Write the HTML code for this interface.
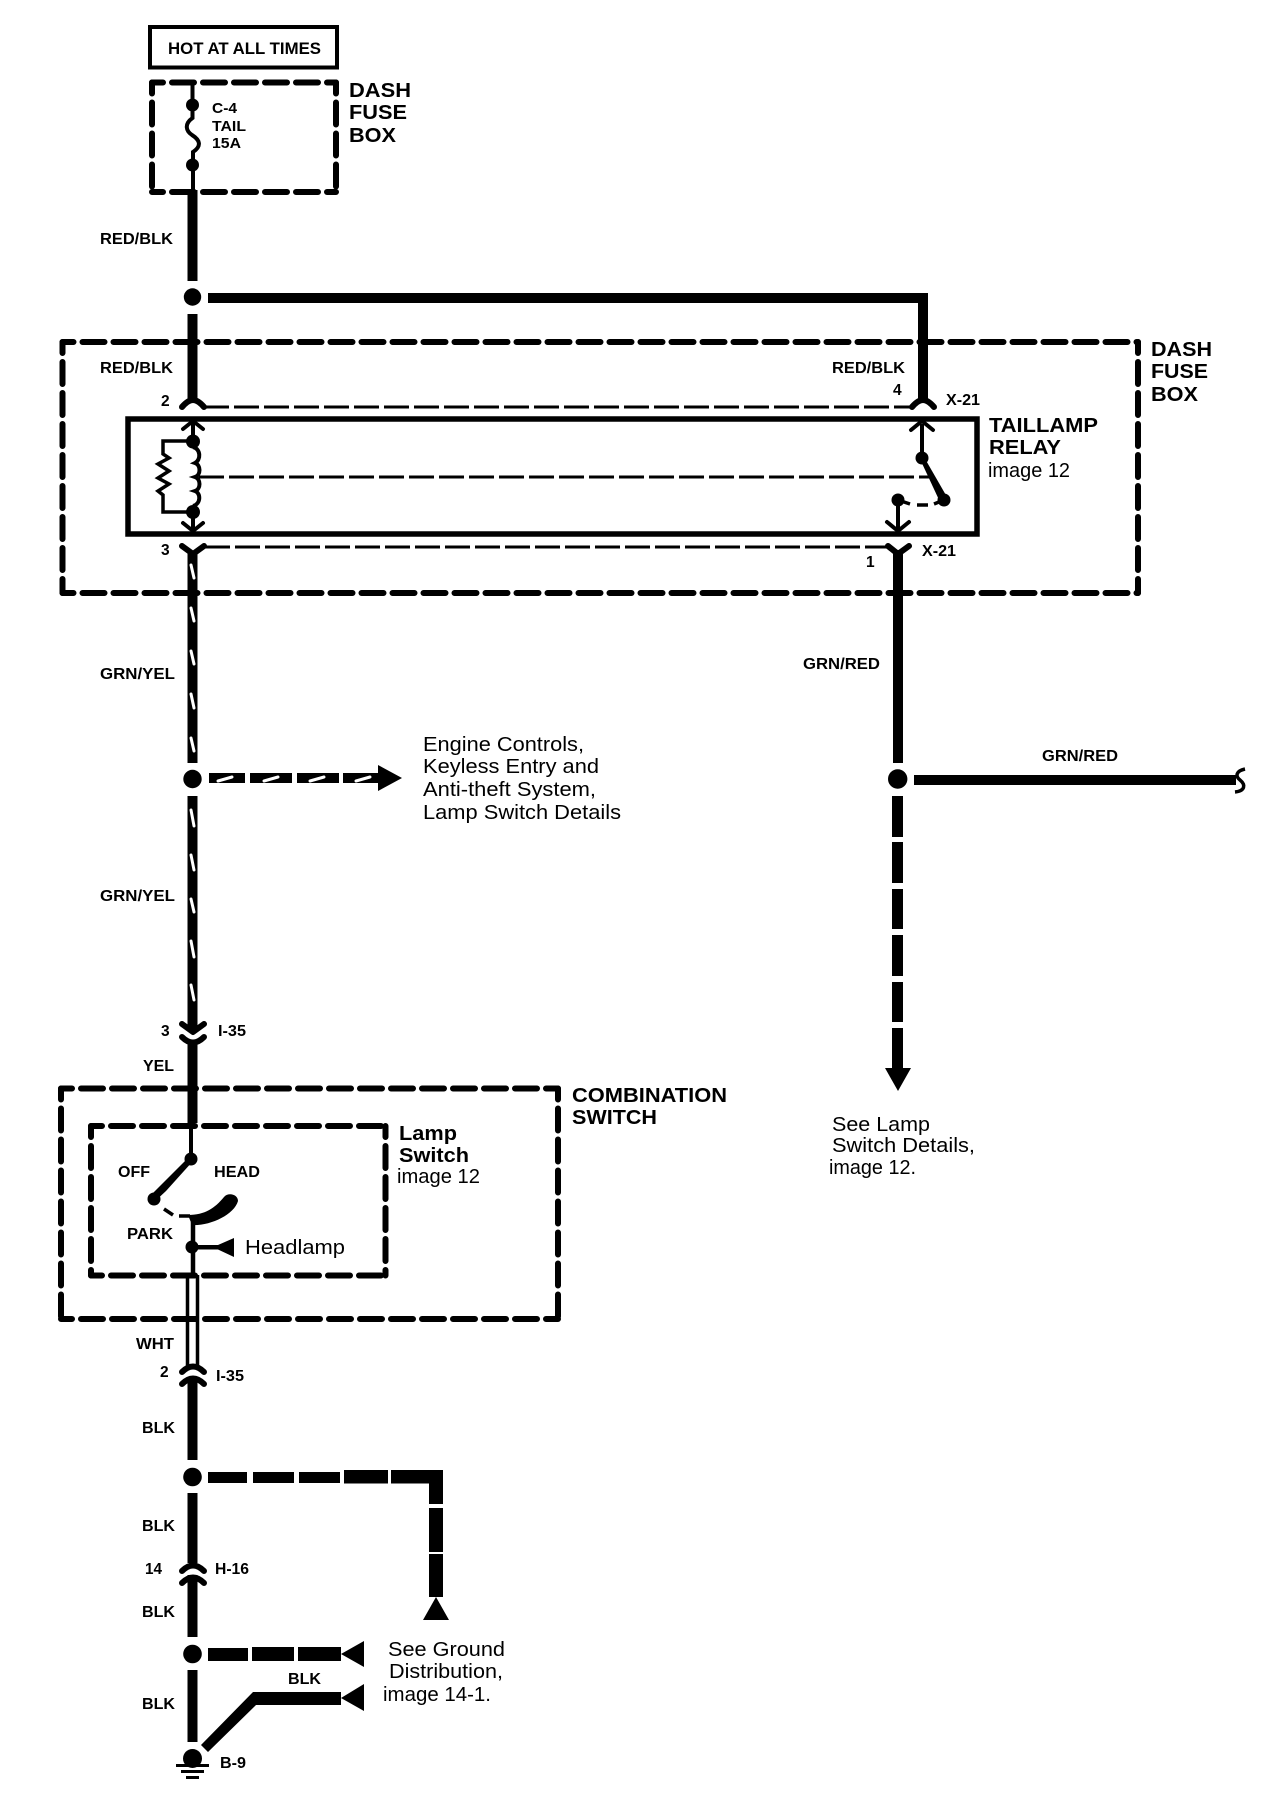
<!DOCTYPE html>
<html><head><meta charset="utf-8"><style>
html,body{margin:0;padding:0;background:#fff}
svg{display:block}
text{font-family:"Liberation Sans",sans-serif;fill:#000}
.b{font-weight:bold}
.l{font-size:15.5px;font-weight:bold}
.t{font-size:20.5px;font-weight:bold}
.r{font-size:20.5px}
.d{fill:none;stroke:#000;stroke-width:6;stroke-linecap:round;stroke-dasharray:22 9;stroke-dashoffset:11}
.w{fill:none;stroke:#000;stroke-linecap:butt}
.c{fill:none;stroke:#000;stroke-width:6;stroke-linecap:round;stroke-linejoin:round}
</style></head><body>
<svg width="1280" height="1808" viewBox="0 0 1280 1808" xmlns="http://www.w3.org/2000/svg">
<rect width="1280" height="1808" fill="#fff"/>

<!-- HOT box -->
<rect x="150" y="27" width="187" height="40.5" fill="none" stroke="#000" stroke-width="4"/>
<text x="168" y="54" class="b" font-size="16.5" textLength="153" lengthAdjust="spacingAndGlyphs">HOT AT ALL TIMES</text>

<!-- top fuse box -->
<path class="d" d="M152,82.500H336"/><path class="d" d="M336,82.500V192"/><path class="d" d="M152,82.500V192"/><path class="d" d="M152,192H336"/>
<path class="w" stroke-width="4" d="M192.500,82V118C184,124 186,131 192,135C200,140 202,146 193,152V192"/>
<circle cx="192.500" cy="105" r="6.500"/><circle cx="192.500" cy="165" r="6.500"/>
<text x="212" y="113" class="b" font-size="15" textLength="25" lengthAdjust="spacingAndGlyphs">C-4</text>
<text x="212" y="131" class="b" font-size="15" textLength="34" lengthAdjust="spacingAndGlyphs">TAIL</text>
<text x="212" y="148" class="b" font-size="15" textLength="29" lengthAdjust="spacingAndGlyphs">15A</text>
<text x="349" y="97" class="t" textLength="62" lengthAdjust="spacingAndGlyphs">DASH</text>
<text x="349" y="119" class="t" textLength="58" lengthAdjust="spacingAndGlyphs">FUSE</text>
<text x="349" y="142" class="t" textLength="47" lengthAdjust="spacingAndGlyphs">BOX</text>

<!-- RED/BLK main wire -->
<path class="w" stroke-width="10" d="M192.500,190V281M192.500,314V401"/>
<circle cx="192.500" cy="297" r="8.700"/>
<path class="w" stroke-width="10" d="M208,298H923V401"/>
<text x="100" y="244" class="l" textLength="73" lengthAdjust="spacingAndGlyphs">RED/BLK</text>

<!-- big dash box -->
<path class="d" d="M62.500,342H1138"/><path class="d" d="M1138,342V593"/><path class="d" d="M62.500,342V593"/><path class="d" d="M62.500,593H1138"/>
<text x="100" y="373" class="l" textLength="73" lengthAdjust="spacingAndGlyphs">RED/BLK</text>
<text x="832" y="373" class="l" textLength="73" lengthAdjust="spacingAndGlyphs">RED/BLK</text>
<text x="161" y="406" class="l">2</text>
<text x="893" y="395" class="l">4</text>
<text x="946" y="405" class="l" textLength="34" lengthAdjust="spacingAndGlyphs">X-21</text>
<text x="161" y="555" class="l">3</text>
<text x="866" y="567" class="l">1</text>
<text x="922" y="556" class="l" textLength="34" lengthAdjust="spacingAndGlyphs">X-21</text>
<text x="1151" y="356" class="t" textLength="61" lengthAdjust="spacingAndGlyphs">DASH</text>
<text x="1151" y="378" class="t" textLength="57" lengthAdjust="spacingAndGlyphs">FUSE</text>
<text x="1151" y="401" class="t" textLength="47" lengthAdjust="spacingAndGlyphs">BOX</text>
<text x="989" y="432" class="t" textLength="109" lengthAdjust="spacingAndGlyphs">TAILLAMP</text>
<text x="989" y="454" class="t" textLength="72" lengthAdjust="spacingAndGlyphs">RELAY</text>
<text x="988" y="477" class="r" textLength="82" lengthAdjust="spacingAndGlyphs">image 12</text>

<!-- connectors 2,4 + thin dashes -->
<path class="c" d="M182,407Q188,400 193,400Q198,400 204,407"/>
<path class="c" d="M912,407Q918,400 923,400Q928,400 934,407"/>
<path class="w" stroke-width="3" stroke-dasharray="25 5" d="M204,407H912"/>
<path class="w" stroke-width="3" stroke-dasharray="25 5" d="M205,547H888"/>

<!-- relay -->
<rect x="128" y="419" width="849" height="115" fill="none" stroke="#000" stroke-width="5.500"/>
<path class="w" stroke-width="3" stroke-dasharray="25 5" d="M199,477H930"/>
<!-- coil relay left -->
<path class="w" stroke-width="4" d="M193,422V441M193,512V531"/>
<path class="c" style="stroke-width:4" d="M183,429L193,421L203,429M183,523L193,531L203,523"/>
<circle cx="193" cy="441.500" r="7"/><circle cx="193" cy="512" r="7"/>
<path class="w" stroke-width="4" d="M193,447C201,449 201,460 195,463C201,465 201,475 195,477C201,479 201,489 195,491C201,493 201,504 193,506"/>
<path class="w" stroke-width="3.500" d="M193,441H163V454L169,458L158,464L169,471L158,478L169,484L158,491L163,495V512H193"/>
<!-- switch in relay -->
<path class="w" stroke-width="4" d="M922,424V458M898,500V529"/>
<path class="c" style="stroke-width:4" d="M911,430L922,421L933,430M887,522L898,531L909,522"/>
<circle cx="922" cy="458" r="6.500"/><circle cx="898" cy="500" r="6.500"/><circle cx="944" cy="500" r="6.500"/>
<path d="M920,459L924,457L947,497L940,502Z"/>
<path class="w" stroke-width="3.500" d="M898,500L910,504M917,505H928M934,504L944,500"/>

<!-- connector 3 + 1 -->
<path class="c" d="M182,546L193,554L204,546"/>
<path class="c" d="M888,546L898,554L909,546"/>

<!-- GRN/YEL -->
<path class="w" stroke-width="10" d="M192.500,552V763M192.500,796V1031"/>
<g stroke="#fff" stroke-width="3" stroke-linecap="round">
<path d="M191,565L194,578M191,608L194,621M191,651L194,664M191,694L194,708M191,738L194,751M191,810L194,826M191,855L194,870M191,899L194,912M191,941L194,957M191,985L194,1000"/>
</g>
<text x="100" y="679" class="l" textLength="75" lengthAdjust="spacingAndGlyphs">GRN/YEL</text>
<text x="100" y="901" class="l" textLength="75" lengthAdjust="spacingAndGlyphs">GRN/YEL</text>
<circle cx="192.500" cy="779" r="9.200"/>
<path d="M209,773H245V783H209ZM250,773H292V783H250ZM297,773H339V783H297ZM343,773H378V765L402,778L378,791V783H343Z"/>
<g stroke="#fff" stroke-width="3" stroke-linecap="round"><path d="M218,781L232,777M264,781L278,777M310,781L324,777M356,781L370,777"/></g>
<text x="423" y="751" class="r" textLength="161" lengthAdjust="spacingAndGlyphs">Engine Controls,</text>
<text x="423" y="773" class="r" textLength="176" lengthAdjust="spacingAndGlyphs">Keyless Entry and</text>
<text x="423" y="796" class="r" textLength="173" lengthAdjust="spacingAndGlyphs">Anti-theft System,</text>
<text x="423" y="819" class="r" textLength="198" lengthAdjust="spacingAndGlyphs">Lamp Switch Details</text>

<!-- I-35 top -->
<path class="c" d="M182,1024L193,1032L204,1024"/>
<path class="c" d="M182,1037Q193,1048 204,1037"/>
<path class="w" stroke-width="10" d="M192.500,1042V1123"/>
<text x="161" y="1036" class="l">3</text>
<text x="218" y="1036" class="l" textLength="28" lengthAdjust="spacingAndGlyphs">I-35</text>
<text x="143" y="1071" class="l" textLength="31" lengthAdjust="spacingAndGlyphs">YEL</text>

<!-- combination switch -->
<path class="d" d="M61,1088.500H558"/><path class="d" d="M558,1088.500V1319"/><path class="d" d="M61,1088.500V1319"/><path class="d" d="M61,1319H558"/>
<path class="d" d="M91,1126H385.500"/><path class="d" d="M385.500,1126V1275.500"/><path class="d" d="M91,1126V1275.500"/><path class="d" d="M91,1275.500H385.500"/>
<text x="572" y="1102" class="t" textLength="155" lengthAdjust="spacingAndGlyphs">COMBINATION</text>
<text x="572" y="1124" class="t" textLength="85" lengthAdjust="spacingAndGlyphs">SWITCH</text>
<text x="399" y="1140" class="t" textLength="58" lengthAdjust="spacingAndGlyphs">Lamp</text>
<text x="399" y="1162" class="t" textLength="70" lengthAdjust="spacingAndGlyphs">Switch</text>
<text x="397" y="1183" class="r" textLength="83" lengthAdjust="spacingAndGlyphs">image 12</text>
<path class="w" stroke-width="4" d="M191,1123V1159"/>
<circle cx="191" cy="1159" r="6.500"/><circle cx="154" cy="1199" r="6.500"/>
<path d="M189,1157L193,1161L166,1191L152,1204L149,1197Z"/>
<path class="w" stroke-width="3.500" d="M164,1209L173,1215M179,1216H190"/>
<path d="M188,1215C205,1215 215,1208 224,1197C228,1192 238,1194 238,1201C234,1215 210,1226 192,1225Z"/>
<path class="w" stroke-width="4.500" d="M193,1222V1276"/>
<circle cx="192" cy="1247" r="6.500"/>
<path d="M192,1245H218L234,1238V1257L218,1249.500H192Z"/>
<text x="118" y="1177" class="l" textLength="32" lengthAdjust="spacingAndGlyphs">OFF</text>
<text x="214" y="1177" class="l" textLength="46" lengthAdjust="spacingAndGlyphs">HEAD</text>
<text x="127" y="1239" class="l" textLength="46" lengthAdjust="spacingAndGlyphs">PARK</text>
<text x="245" y="1254" class="r" textLength="100" lengthAdjust="spacingAndGlyphs">Headlamp</text>

<!-- WHT -->
<path class="w" stroke-width="3.500" d="M187.500,1275V1368M197.500,1275V1368"/>
<text x="136" y="1349" class="l" textLength="38" lengthAdjust="spacingAndGlyphs">WHT</text>
<text x="160" y="1377" class="l">2</text>
<text x="216" y="1381" class="l" textLength="28" lengthAdjust="spacingAndGlyphs">I-35</text>
<path class="c" d="M182,1372Q193,1361 204,1372"/>
<path class="c" d="M182,1384Q193,1373 204,1384"/>

<!-- BLK wires -->
<path class="w" stroke-width="10" d="M192.500,1378V1460M192.500,1493V1563M192.500,1575V1637M192.500,1670V1742"/>
<text x="142" y="1433" class="l" textLength="33" lengthAdjust="spacingAndGlyphs">BLK</text>
<text x="142" y="1531" class="l" textLength="33" lengthAdjust="spacingAndGlyphs">BLK</text>
<text x="142" y="1617" class="l" textLength="33" lengthAdjust="spacingAndGlyphs">BLK</text>
<text x="142" y="1709" class="l" textLength="33" lengthAdjust="spacingAndGlyphs">BLK</text>
<text x="145" y="1574" class="l" textLength="17" lengthAdjust="spacingAndGlyphs">14</text>
<text x="215" y="1574" class="l" textLength="34" lengthAdjust="spacingAndGlyphs">H-16</text>
<path class="c" d="M182,1571Q193,1560 204,1571"/>
<path class="c" d="M182,1583Q193,1572 204,1583"/>
<circle cx="192.500" cy="1477" r="9.300"/><circle cx="192.500" cy="1654" r="9.300"/>

<!-- dashed branch 1 -->
<path d="M208,1472H247V1483H208ZM253,1472H294V1483H253ZM299,1472H340V1483H299ZM344,1470H388V1483.500H344ZM391,1470H443V1504H429V1483.500H391ZM429,1508H443V1552H429ZM429,1554H443V1597H429ZM436,1597L449,1620H423Z"/>
<!-- dashed branch 2 -->
<path d="M208,1648H248V1661H208ZM252,1647H294V1661H252ZM298,1647H341V1661H298ZM341,1654L364,1641V1667Z"/>
<!-- ground branch -->
<path d="M201,1745L208,1752L256,1705H341V1692H253ZM341,1698L364,1684V1711Z"/>
<text x="288" y="1684" class="l" textLength="33" lengthAdjust="spacingAndGlyphs">BLK</text>
<text x="388" y="1656" class="r" textLength="117" lengthAdjust="spacingAndGlyphs">See Ground</text>
<text x="389" y="1678" class="r" textLength="114" lengthAdjust="spacingAndGlyphs">Distribution,</text>
<text x="383" y="1701" class="r" textLength="108" lengthAdjust="spacingAndGlyphs">image 14-1.</text>

<!-- ground -->
<circle cx="192.500" cy="1758.500" r="9.500"/>
<path class="w" stroke-width="3" d="M176,1765.500H209M181,1771.500H204M186,1777.500H199"/>
<text x="220" y="1768" class="l" textLength="26" lengthAdjust="spacingAndGlyphs">B-9</text>

<!-- GRN/RED right -->
<path class="w" stroke-width="10" d="M898,550V763"/>
<circle cx="897.700" cy="779" r="9.700"/>
<path class="w" stroke-width="10" d="M914,780H1236"/>
<path class="w" stroke-width="3.500" d="M1245,769C1236,771 1235,776 1240,780C1246,785 1245,791 1235,792"/>
<path d="M892,796H903V837H892ZM892,842H903V883H892ZM892,889H903V929H892ZM892,935H903V976H892ZM892,982H903V1022H892ZM892,1028H903V1068H911L898,1091L885,1068H892Z"/>
<text x="803" y="669" class="l" textLength="77" lengthAdjust="spacingAndGlyphs">GRN/RED</text>
<text x="1042" y="761" class="l" textLength="76" lengthAdjust="spacingAndGlyphs">GRN/RED</text>
<text x="832" y="1131" class="r" textLength="98" lengthAdjust="spacingAndGlyphs">See Lamp</text>
<text x="832" y="1152" class="r" textLength="143" lengthAdjust="spacingAndGlyphs">Switch Details,</text>
<text x="829" y="1174" class="r" textLength="87" lengthAdjust="spacingAndGlyphs">image 12.</text>
</svg>
</body></html>
